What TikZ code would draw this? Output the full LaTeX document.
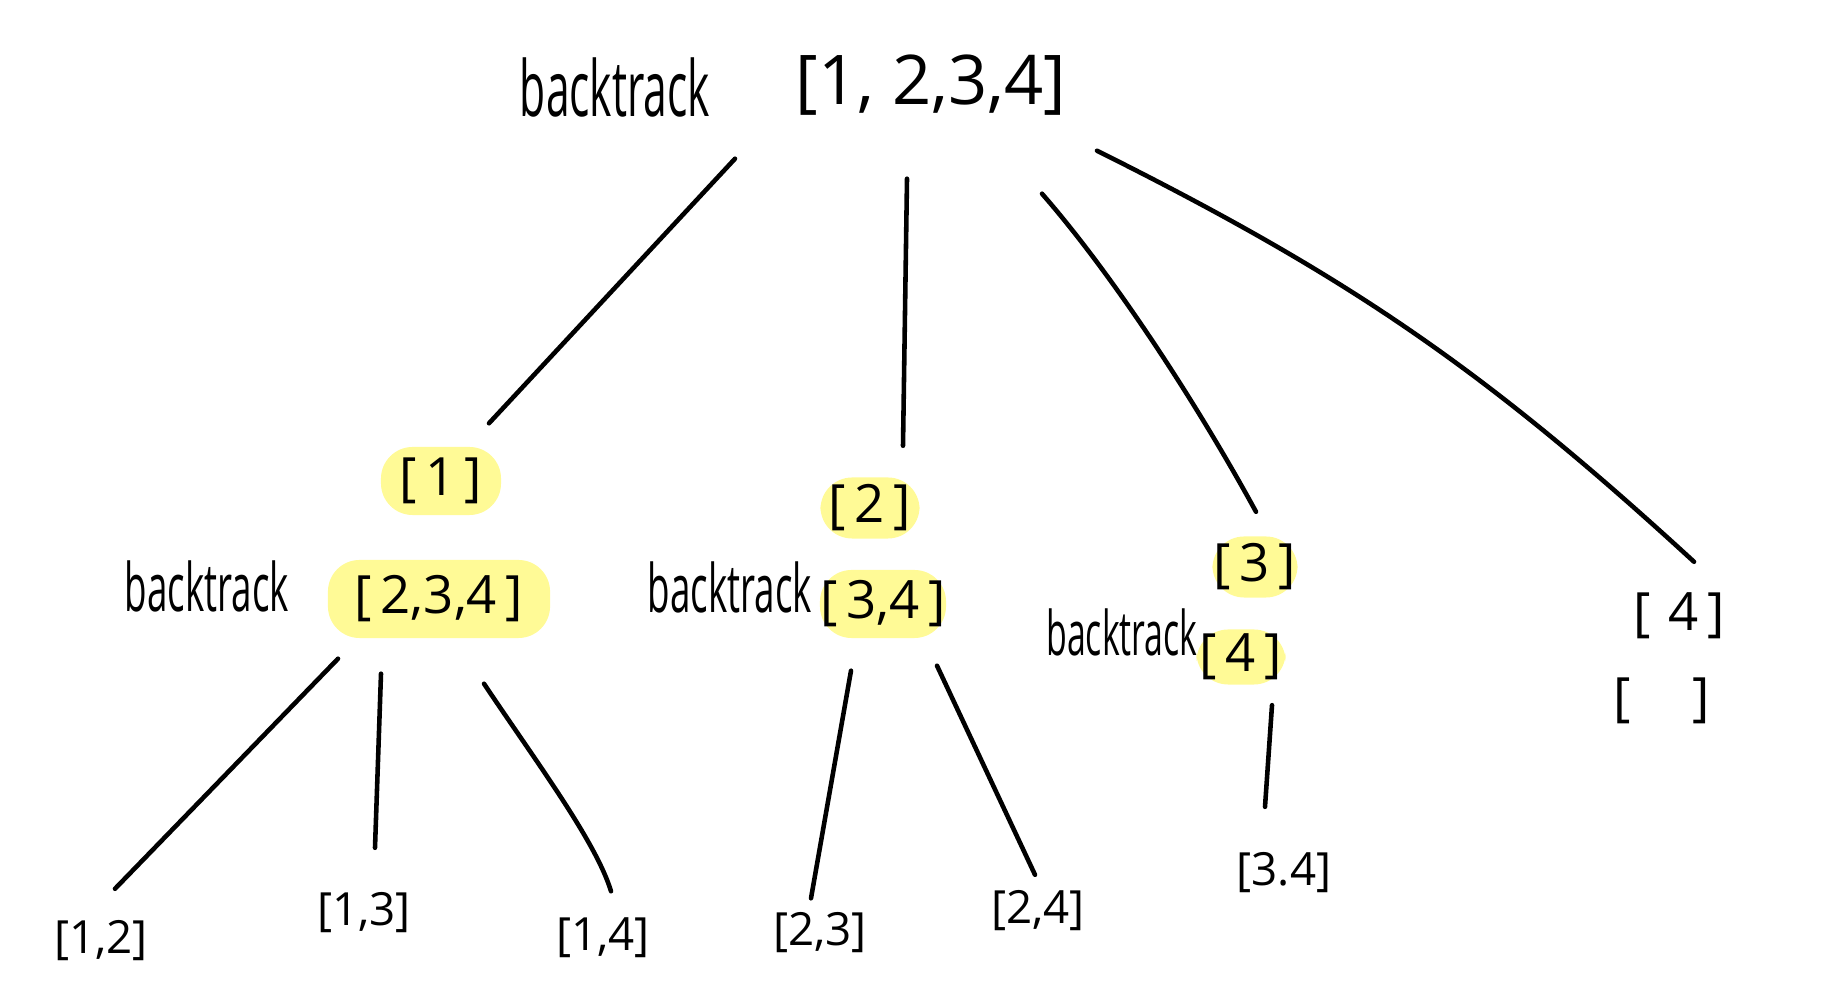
\documentclass[tikz,border=0pt]{standalone}
\usepackage{fontspec}
\setmainfont{Open Sans}
\usepackage{graphicx}
\definecolor{hlyellow}{RGB}{255,250,150}
\newcommand{\bktext}{\scalebox{.55}[1]{backtrack}}
\tikzset{
  pen/.style={line width=1.3pt, line cap=round},
  lbl/.style={inner sep=0pt, align=center},
  hlbox/.style={lbl, fill=hlyellow, rounded corners=9pt},
  bigtxt/.style={font=\fontsize{19.5}{22}\selectfont},
  midtxt/.style={font=\fontsize{15}{17}\selectfont},
  leaftxt/.style={font=\fontsize{13}{15}\selectfont},
  btbig/.style={lbl, font=\fontsize{22}{24}\selectfont},
  btmid/.style={lbl, font=\fontsize{19}{21}\selectfont},
}
\begin{document}
\begin{tikzpicture}[x=0.01cm, y=-0.01cm]
                \useasboundingbox (0,0) rectangle (1836,1001);

                % Root call
                \node[btbig] (bt0) at (615,88) {\bktext};
                \node[lbl, bigtxt, minimum width=2.75cm, minimum height=.76cm] (top) at (931,85) {[1,\ 2,3,4]};

                % First level: pick 1
                \node[hlbox, midtxt, minimum width=1.2cm, minimum height=.68cm] (n1) at (441,481) {[\,1\,]};
                \node[btmid] (bt1) at (207,586) {\bktext};
                \node[hlbox, midtxt, minimum width=2.22cm, minimum height=.78cm] (n1b) at (439,599) {[\,2,3,4\,]};

                % First level: pick 2
                \node[hlbox, midtxt, minimum width=.99cm, minimum height=.61cm] (n2) at (870,508) {[\,2\,]};
                \node[btmid] (bt2) at (730,587) {\bktext};
                \node[hlbox, midtxt, minimum width=1.26cm, minimum height=.68cm] (n2b) at (883,604) {[\,3,4\,]};

                % First level: pick 3
                \node[hlbox, midtxt, minimum width=.85cm, minimum height=.61cm] (n3) at (1255,567) {[\,3\,]};
                \node[btmid, font=\fontsize{17.5}{20}\selectfont] (bt3) at (1122,632) {\bktext};
                \node[hlbox, midtxt, minimum width=.89cm, minimum height=.55cm] (n3b) at (1241,657) {[\,4\,]};

                % First level: pick 4
                \node[lbl, midtxt, minimum width=1.08cm, minimum height=.61cm] (n4) at (1679,616) {[\,\,4\,]};
                \node[lbl, midtxt] (n4b) at (1662,701) {[\quad\,]};

                % Leaves
                \node[lbl, leaftxt, minimum width=.97cm, minimum height=.57cm] (l12) at (101,941) {[1,2]};
                \node[lbl, leaftxt, minimum width=1.03cm, minimum height=.59cm] (l13) at (364,913) {[1,3]};
                \node[lbl, leaftxt, minimum width=.94cm, minimum height=.5cm] (l14) at (603,938) {[1,4]};
                \node[lbl, leaftxt, minimum width=.89cm, minimum height=.5cm] (l23) at (820,933) {[2,3]};
                \node[lbl, leaftxt, minimum width=.9cm, minimum height=.55cm] (l24) at (1038,911) {[2,4]};
                \node[lbl, leaftxt, minimum width=1.14cm, minimum height=.57cm] (l34) at (1284,873) {[3.4]};

                % Branches from the root
                \draw[pen] ([shift={(-196,35)}]top.south) -- ([shift={(48,-23)}]n1.north);
                \draw[pen] ([shift={(-24,55)}]top.south) -- ([shift={(33,-31)}]n2.north);
                \draw[pen] ([shift={(111,70)}]top.south) .. controls +(70,80) and +(-60,-110) .. ([shift={(1,-24)}]n3.north);
                \draw[pen] ([shift={(166,27)}]top.south) to[bend left=8] ([shift={(15,-23)}]n4.north);

                % Branches from [2,3,4]
                \draw[pen] ([shift={(-101,20)}]n1b.south) -- ([shift={(14,-23)}]l12.north);
                \draw[pen] ([shift={(-58,35)}]n1b.south) -- ([shift={(11,-35)}]l13.north);
                \draw[pen] ([shift={(45,45)}]n1b.south) .. controls +(50,75) and +(-15,-50) .. ([shift={(8,-21)}]l14.north);

                % Branches from [3,4] and [4]
                \draw[pen] ([shift={(-32,32)}]n2b.south) -- ([shift={(-9,-9)}]l23.north);
                \draw[pen] ([shift={(54,27)}]n2b.south) -- ([shift={(-3,-8)}]l24.north);
                \draw[pen] ([shift={(31,20)}]n3b.south) -- ([shift={(-19,-37)}]l34.north);

\end{tikzpicture}
\end{document}
